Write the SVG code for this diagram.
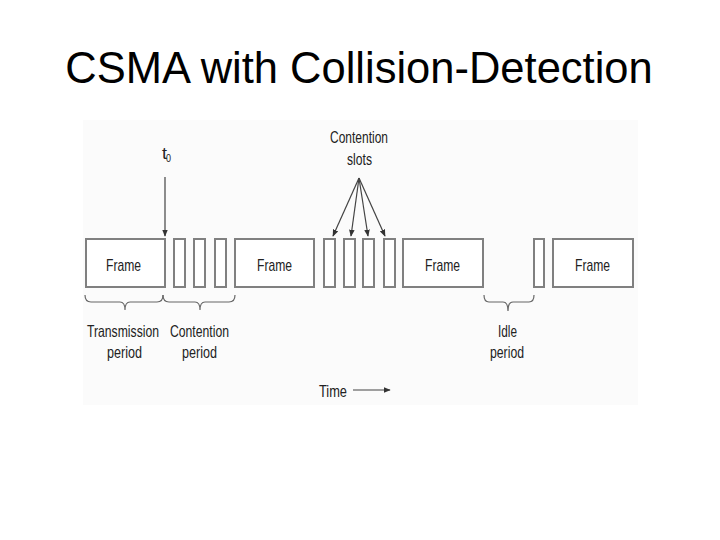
<svg xmlns="http://www.w3.org/2000/svg" width="720" height="540" viewBox="0 0 720 540">
<style>
.title{font-family:"Liberation Sans",Arial,sans-serif;font-size:43.5px;fill:#000}
.lbl{font-family:"Liberation Sans",Arial,sans-serif;font-size:17px;fill:#222}
.box{fill:#fff;stroke:#808080;stroke-width:2}
.ln{fill:none;stroke:#444;stroke-width:1.2}
.br{fill:none;stroke:#666;stroke-width:1.2}
</style>
<defs>
<marker id="ah" viewBox="0 0 10 10" refX="9" refY="5" markerWidth="7" markerHeight="7" orient="auto" markerUnits="userSpaceOnUse">
<path d="M0,1 L10,5 L0,9 z" fill="#333"/>
</marker>
</defs>
<rect width="720" height="540" fill="#fff"/>
<rect x="83" y="120" width="555" height="285" fill="#fbfbfb"/>
<text class="title" x="359" y="83" text-anchor="middle">CSMA with Collision-Detection</text>

<g id="frame1"><rect class="box" x="86" y="239" width="79" height="48"/><text class="lbl" x="106" y="271" textLength="35" lengthAdjust="spacingAndGlyphs">Frame</text></g>
<g id="slot1"><rect class="box" x="174" y="239" width="11" height="48"/></g>
<g id="slot2"><rect class="box" x="194" y="239" width="11" height="48"/></g>
<g id="slot3"><rect class="box" x="215" y="239" width="11" height="48"/></g>
<g id="frame2"><rect class="box" x="235" y="239" width="79" height="48"/><text class="lbl" x="257" y="271" textLength="35" lengthAdjust="spacingAndGlyphs">Frame</text></g>
<g id="slot4"><rect class="box" x="324" y="239" width="11" height="48"/></g>
<g id="slot5"><rect class="box" x="344" y="239" width="11" height="48"/></g>
<g id="slot6"><rect class="box" x="363" y="239" width="11" height="48"/></g>
<g id="slot7"><rect class="box" x="384" y="239" width="11" height="48"/></g>
<g id="frame3"><rect class="box" x="403" y="239" width="80" height="48"/><text class="lbl" x="425" y="271" textLength="35" lengthAdjust="spacingAndGlyphs">Frame</text></g>
<g id="slot8"><rect class="box" x="534" y="239" width="10" height="48"/></g>
<g id="frame4"><rect class="box" x="553" y="239" width="80" height="48"/><text class="lbl" x="575" y="271" textLength="35" lengthAdjust="spacingAndGlyphs">Frame</text></g>

<g id="t0"><text class="lbl" x="162" y="159" textLength="5" lengthAdjust="spacingAndGlyphs">t</text><text class="lbl" x="166" y="162" style="font-size:11px" textLength="5" lengthAdjust="spacingAndGlyphs">0</text></g>
<g id="contention-slots-label"><text class="lbl" x="330" y="143" textLength="58" lengthAdjust="spacingAndGlyphs">Contention</text><text class="lbl" x="347" y="165" textLength="25" lengthAdjust="spacingAndGlyphs">slots</text></g>
<g id="transmission-period"><text class="lbl" transform="translate(87,337) scale(1,1.37)" style="font-size:12.2px">Transmission</text><text class="lbl" x="107" y="358" textLength="35" lengthAdjust="spacingAndGlyphs">period</text></g>
<g id="contention-period"><text class="lbl" transform="translate(170,337) scale(1,1.39)" style="font-size:12.2px">Contention</text><text class="lbl" x="182" y="358" textLength="35" lengthAdjust="spacingAndGlyphs">period</text></g>
<g id="idle-period"><text class="lbl" x="498" y="337" textLength="19" lengthAdjust="spacingAndGlyphs">Idle</text><text class="lbl" x="490" y="358" textLength="34" lengthAdjust="spacingAndGlyphs">period</text></g>
<g id="time"><text class="lbl" x="319" y="397" textLength="28" lengthAdjust="spacingAndGlyphs">Time</text></g>

<g id="connectors">
<line class="ln" x1="165" y1="177" x2="165" y2="236" marker-end="url(#ah)"/>
<line class="ln" x1="359" y1="178" x2="333" y2="236" marker-end="url(#ah)"/>
<line class="ln" x1="359" y1="178" x2="351" y2="236" marker-end="url(#ah)"/>
<line class="ln" x1="359" y1="178" x2="368" y2="236" marker-end="url(#ah)"/>
<line class="ln" x1="359" y1="178" x2="385" y2="236" marker-end="url(#ah)"/>
<line class="ln" x1="353" y1="390" x2="390" y2="390" marker-end="url(#ah)"/>
<path class="br" d="M85,295 Q85,302 91,302 L120,302 Q125,302 125,310 Q125,302 130,302 L157,302 Q163,302 163,295"/>
<path class="br" d="M163,295 Q163,302 169,302 L195,302 Q200,302 200,310 Q200,302 205,302 L229,302 Q235,302 235,295"/>
<path class="br" d="M484,295 Q484,302 489,302 L503,302 Q508,302 508,311 Q508,302 513,302 L529,302 Q534,302 534,295"/>
</g>
</svg>
